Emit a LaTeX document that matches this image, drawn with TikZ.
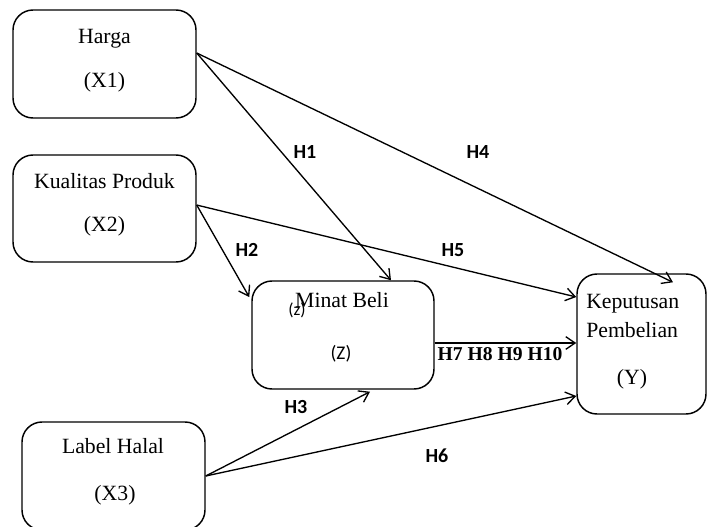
\documentclass[tikz,border=0pt]{standalone}
\usepackage{fontspec}
\setmainfont{Liberation Serif}
\newfontfamily\calib{Carlito}
\usetikzlibrary{arrows.meta}
\begin{document}
\begin{tikzpicture}[x=0.75pt,y=-0.75pt,
  box/.style={draw, line width=1.1pt, rounded corners=15pt, inner sep=0pt,
              minimum width=137.25pt, minimum height=81pt},
  lbl/.style={inner sep=0pt, text height=10.8pt, text depth=0pt,
              font=\fontsize{16.3}{18}\selectfont},
  hyp/.style={inner sep=0pt, text height=9.6pt, text depth=0pt,
              font=\calib\bfseries\fontsize{15}{17}\selectfont},
  arr/.style={line width=1pt, -{Straight Barb[length=7pt,width=9.5pt]}}]
\useasboundingbox (0,0) rectangle (708,526);

% construct boxes
\node[box] (harga) at (104.5,64) {};
\node[box, minimum height=80.25pt] (kualitas) at (104.5,208.5) {};
\node[box, minimum width=136.5pt] (minat) at (343,335) {};
\node[box, minimum width=96.75pt, minimum height=105pt] (keputusan) at (641.5,344) {};
\node[box] (halal) at (113.5,476) {};

% box captions
\node[lbl] (t-harga) at (104.5,36) {Harga};
\node[lbl] (t-x1) at (104.5,80) {(X1)};
\node[lbl] (t-kual) at (104.5,181) {Kualitas Produk};
\node[lbl] (t-x2) at (104.5,224) {(X2)};
\node[lbl] (t-minat) at (342,300) {Minat Beli};
\node[inner sep=0pt, text height=8.3pt, text depth=0pt, font=\calib\fontsize{13}{15}\selectfont] (t-zs) at (297,310) {(z)};
\node[inner sep=0pt, text height=9.3pt, text depth=0pt, font=\calib\fontsize{14.5}{16}\selectfont] (t-z) at (341,353) {(Z)};
\node[lbl, anchor=west] (t-kep) at (586,301.5) {Keputusan};
\node[lbl, anchor=west] (t-pem) at (586,330) {Pembelian};
\node[lbl] (t-y) at (632,377) {(Y)};
\node[lbl] (t-halal) at (113,446) {Label Halal};
\node[lbl] (t-x3) at (115,493) {(X3)};

% paths between variables
\draw[arr] ([yshift=8.25pt]harga.east) -- ([xshift=36pt]minat.north);
\draw[arr] ([yshift=8.25pt]harga.east) -- ([xshift=23.6pt,yshift=-6.75pt]keputusan.north);
\draw[arr] ([yshift=2.6pt]kualitas.east) -- ([xshift=-1.5pt,yshift=28.5pt]minat.west);
\draw[arr] ([yshift=2.6pt]kualitas.east) -- ([yshift=35.25pt]keputusan.west);
\draw[arr] ([yshift=-6pt]minat.east) -- ([yshift=-6pt]minat.east -| keputusan.west);
\draw[arr] (halal.east) -- ([xshift=20.25pt,yshift=-1.5pt]minat.south);
\draw[arr] (halal.east) -- ([yshift=-39pt]keputusan.west);

% hypothesis labels
\node[hyp] (h1) at (305,152) {H1};
\node[hyp] (h4) at (478,152) {H4};
\node[hyp] (h2) at (247,250) {H2};
\node[hyp] (h5) at (453,250) {H5};
\node[hyp] (h3) at (296,407) {H3};
\node[hyp] (h6) at (437,456) {H6};
\node[inner sep=0pt, text height=9.7pt, text depth=0pt, font=\bfseries\fontsize{14.7}{17}\selectfont] (h7) at (500,354) {H7 H8 H9 H10};
\end{tikzpicture}
\end{document}
